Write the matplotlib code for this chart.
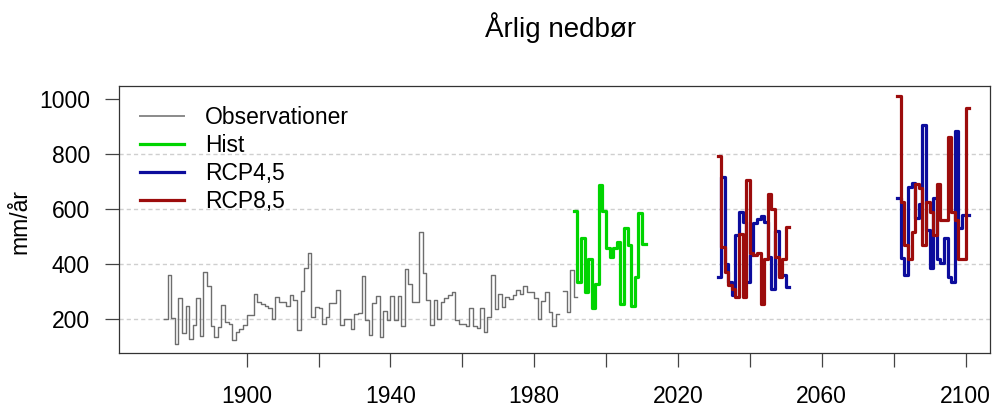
import numpy as np
import matplotlib.pyplot as plt
from matplotlib.lines import Line2D

plt.rcParams["font.family"] = ["Liberation Sans", "DejaVu Sans"]

# Observed annual precipitation (mm/år), 1877-1991 (1987 missing)
OBS_YEARS = np.arange(1877, 1992)
OBS_VALUES = [
    200, 361, 205, 110, 279, 150, 250, 130, 180, 276,
    140, 373, 320, 175, 137, 173, 252, 192, 183, 127,
    155, 165, 178, 216, 216, 292, 262, 255, 248, 240,
    200, 280, 264, 264, 250, 288, 270, 161, 304, 385,
    440, 207, 244, 240, 185, 207, 260, 260, 306, 178,
    200, 200, 164, 218, 224, 357, 197, 145, 258, 285,
    137, 230, 197, 285, 197, 285, 176, 382, 327, 264,
    264, 518, 369, 270, 178, 270, 200, 264, 276, 288,
    300, 197, 185, 185, 175, 240, 175, 167, 240, 155,
    207, 360, 237, 292, 246, 280, 274, 288, 306, 294,
    323, 300, 300, 276, 200, 267, 300, 228, 175, 219,
    np.nan, 303, 228, 379, 282,
]

HIST_YEARS = np.arange(1991, 2011)
HIST_VALUES = [594, 336, 494, 300, 420, 240, 330, 688, 594, 458,
               425, 458, 482, 255, 530, 470, 248, 355, 585, 473]

MID_YEARS = np.arange(2031, 2051)
RCP45_MID = [355, 718, 400, 337, 288, 508, 591, 555, 337, 433,
             551, 563, 575, 555, 427, 312, 520, 361, 361, 318]
RCP85_MID = [794, 461, 373, 324, 312, 282, 510, 282, 706, 440,
             435, 442, 255, 420, 654, 600, 427, 355, 418, 536]

END_YEARS = np.arange(2081, 2101)
RCP45_END = [639, 424, 361, 682, 694, 567, 620, 905, 524, 385,
             640, 421, 403, 496, 355, 336, 882, 530, 579, 579]
RCP85_END = [1011, 625, 470, 421, 518, 690, 676, 470, 627, 591,
             506, 690, 560, 560, 863, 591, 560, 421, 421, 966]

X_TICKS = np.arange(1900, 2101, 20)
Y_TICKS = [200, 400, 600, 800, 1000]
GRID_Y = [200, 400, 600, 800]

C_OBS = "#6e6e6e"
C_HIST = "#00d400"
C_45 = "#0c0c9c"
C_85 = "#9c0c0c"


def step(ax, years, values, **kw):
    # R-style type="s": each year covers [year, year+1)
    x = np.append(years, years[-1] + 1)
    y = np.append(values, values[-1])
    return ax.plot(x, y, drawstyle="steps-post", **kw)[0]


fig = plt.figure(figsize=(9.93, 4.07), dpi=100)
ax = fig.add_axes([119 / 993, 1 - 353.3 / 407, 871 / 993, 267.3 / 407])

for gy in GRID_Y:
    ax.axhline(gy, color="#cfcfcf", lw=1.0, ls=(0, (3, 2.2)), zorder=0)

step(ax, OBS_YEARS, OBS_VALUES, color=C_OBS, lw=1.0)
step(ax, HIST_YEARS, HIST_VALUES, color=C_HIST, lw=2.3)
step(ax, MID_YEARS, RCP45_MID, color=C_45, lw=2.3)
step(ax, END_YEARS, RCP45_END, color=C_45, lw=2.3)
step(ax, MID_YEARS, RCP85_MID, color=C_85, lw=2.3)
step(ax, END_YEARS, RCP85_END, color=C_85, lw=2.3)

ax.set_xlim(1864.5, 2106.8)
ax.set_ylim(77, 1047)

ax.set_xticks(X_TICKS)
ax.set_xticklabels([str(t) if t % 40 == 20 else "" for t in X_TICKS])
ax.set_yticks(Y_TICKS)
ax.set_yticklabels([str(t) for t in Y_TICKS])
ax.tick_params(axis="both", direction="out", length=10, width=0.9,
               color="#444444", labelsize=16.5)
ax.tick_params(axis="x", pad=13)
ax.tick_params(axis="y", pad=11)
for s in ax.spines.values():
    s.set_color("#333333")
    s.set_linewidth(0.9)

fig.text(561 / 993, 1 - 28 / 407, "Årlig nedbør", ha="center", va="center",
         fontsize=20)
fig.text(20 / 993, 1 - 222 / 407, "mm/år", rotation=90, ha="center",
         va="center", fontsize=16.5)

handles = [Line2D([], [], color="#8a8a8a", lw=1.4),
           Line2D([], [], color=C_HIST, lw=2.3),
           Line2D([], [], color=C_45, lw=2.3),
           Line2D([], [], color=C_85, lw=2.3)]
ax.legend(handles, ["Observationer", "Hist", "RCP4,5", "RCP8,5"],
          loc="upper left", bbox_to_anchor=(0.024, 0.925), frameon=False,
          fontsize=16.5, handlelength=1.92, handletextpad=0.92,
          labelspacing=0.22, borderpad=0, borderaxespad=0)

fig.savefig("out.png", dpi=100)
